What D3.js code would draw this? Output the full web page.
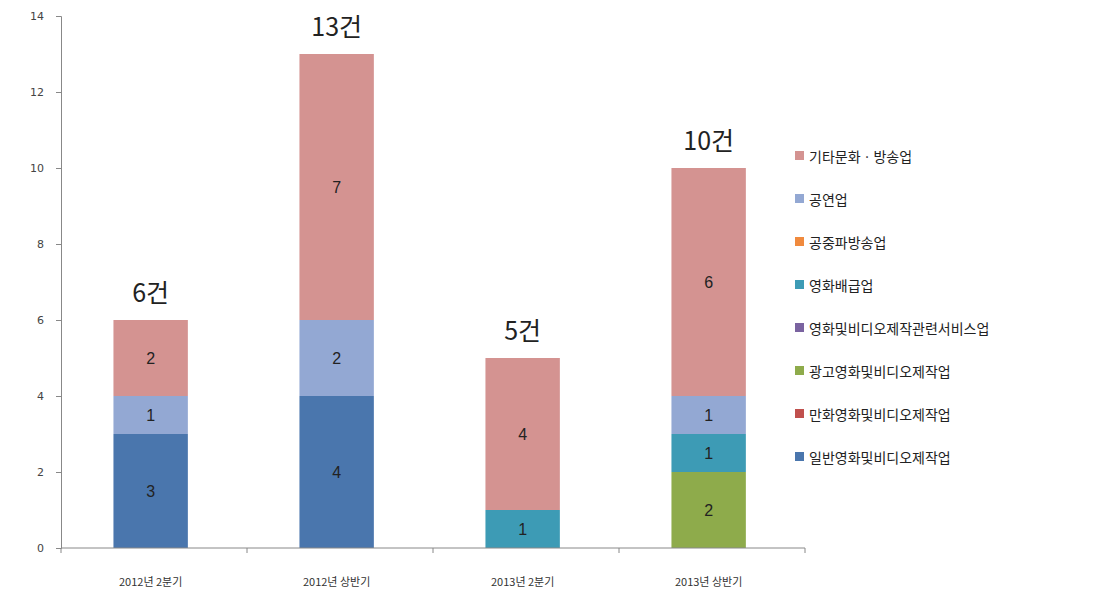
<!DOCTYPE html>
<html>
<head>
<meta charset="utf-8">
<script src="https://cdn.jsdelivr.net/npm/d3@7"></script>
<style>
  body { margin: 0; background: #fff; }
  svg { display: block; font-family: "Noto Sans CJK KR", sans-serif; }
</style>
</head>
<body>
<svg width="1117" height="602"></svg>
<script>
// categories (x axis)
var categories = ["2012년 2분기", "2012년 상반기", "2013년 2분기", "2013년 상반기"];

// series, bottom of stack first
var seriesNames = [
  "일반영화및비디오제작업",
  "만화영화및비디오제작업",
  "광고영화및비디오제작업",
  "영화및비디오제작관련서비스업",
  "영화배급업",
  "공중파방송업",
  "공연업",
  "기타문화ㆍ방송업"
];
var seriesColors = ["#4a76ad", "#c0504d", "#8eab4b", "#7a63a0", "#3d9bb5", "#f08a3e", "#93a8d3", "#d49391"];

var general    = [3, 4, 0, 0];
var animation  = [0, 0, 0, 0];
var advert     = [0, 0, 0, 2];
var service    = [0, 0, 0, 0];
var distrib    = [0, 0, 1, 1];
var broadcast  = [0, 0, 0, 0];
var perform    = [1, 2, 0, 1];
var otherCult  = [2, 7, 4, 6];

var totalLabels = ["6건", "13건", "5건", "10건"];
var yTicks = [0, 2, 4, 6, 8, 10, 12, 14];

var seriesValues = [general, animation, advert, service, distrib, broadcast, perform, otherCult];

var data = categories.map(function(c, i) {
  var row = { cat: c };
  seriesNames.forEach(function(s, k) { row[s] = seriesValues[k][i]; });
  return row;
});

var svg = d3.select("svg"),
    margin = { top: 16, right: 312, bottom: 54, left: 61 },
    width = 1117 - margin.left - margin.right,
    height = 602 - margin.top - margin.bottom,
    g = svg.append("g").attr("transform", "translate(" + margin.left + "," + margin.top + ")");

var x = d3.scaleBand()
  .domain(categories)
  .range([0, width])
  .paddingInner(0.6)
  .paddingOuter(0.3)
  .align(0.47);

var y = d3.scaleLinear()
  .domain([0, 14])
  .range([height, 0]);

var z = d3.scaleOrdinal().domain(seriesNames).range(seriesColors);

var stacked = d3.stack().keys(seriesNames)(data);

var layers = g.append("g")
  .selectAll("g")
  .data(stacked)
  .enter().append("g")
  .attr("fill", function(d) { return z(d.key); });

layers.selectAll("rect")
  .data(function(d) { return d; })
  .enter().append("rect")
  .attr("x", function(d) { return x(d.data.cat); })
  .attr("y", function(d) { return y(d[1]); })
  .attr("height", function(d) { return y(d[0]) - y(d[1]); })
  .attr("width", x.bandwidth());

// segment value labels
layers.selectAll("text")
  .data(function(d) { return d.filter(function(p) { return p[1] - p[0] > 0; }); })
  .enter().append("text")
  .attr("x", function(d) { return x(d.data.cat) + x.bandwidth() / 2; })
  .attr("y", function(d) { return y((d[0] + d[1]) / 2); })
  .attr("dy", "0.36em")
  .attr("text-anchor", "middle")
  .attr("font-size", 16)
  .attr("font-family", "Liberation Sans, sans-serif")
  .attr("fill", "#222")
  .text(function(d) { return d[1] - d[0]; });

// totals above bars
g.append("g")
  .selectAll("text")
  .data(data)
  .enter().append("text")
  .attr("x", function(d) { return x(d.cat) + x.bandwidth() / 2; })
  .attr("y", function(d) {
    var t = d3.sum(seriesNames, function(s) { return d[s]; });
    return y(t) - 18;
  })
  .attr("text-anchor", "middle")
  .attr("font-size", 25)
  .attr("fill", "#222")
  .text(function(d, i) { return totalLabels[i]; });

// x axis
var xAxis = g.append("g")
  .attr("transform", "translate(0," + height + ")");
xAxis.append("line")
  .attr("x1", 0).attr("x2", width)
  .attr("stroke", "#888");
xAxis.selectAll("line.tk")
  .data(d3.range(categories.length + 1))
  .enter().append("line")
  .attr("class", "tk")
  .attr("x1", function(i) { return i * width / categories.length; })
  .attr("x2", function(i) { return i * width / categories.length; })
  .attr("y1", 0).attr("y2", 5)
  .attr("stroke", "#888");
xAxis.selectAll("text")
  .data(categories)
  .enter().append("text")
  .attr("x", function(d) { return x(d) + x.bandwidth() / 2; })
  .attr("y", 38)
  .attr("text-anchor", "middle")
  .attr("font-size", 11)
  .attr("fill", "#333")
  .text(function(d) { return d; });

// y axis
var yAxis = g.append("g")
  .call(d3.axisLeft(y).tickValues(yTicks).tickSize(5).tickPadding(12));
yAxis.select(".domain").attr("stroke", "#888");
yAxis.selectAll(".tick line").attr("stroke", "#888");
yAxis.selectAll(".tick text")
  .attr("font-size", 11)
  .attr("font-family", "DejaVu Sans, sans-serif")
  .attr("fill", "#444");

// legend, top item = top of stack
var legend = svg.append("g")
  .attr("transform", "translate(795,158)")
  .selectAll("g")
  .data(seriesNames.slice().reverse())
  .enter().append("g")
  .attr("transform", function(d, i) { return "translate(0," + i * 43 + ")"; });

legend.append("rect")
  .attr("x", 0)
  .attr("y", -7)
  .attr("width", 9)
  .attr("height", 9)
  .attr("fill", z);

legend.append("text")
  .attr("x", 14)
  .attr("y", 0)
  .attr("dy", "0.32em")
  .attr("font-size", 14)
  .attr("fill", "#222")
  .text(function(d) { return d; });
</script>
</body>
</html>
